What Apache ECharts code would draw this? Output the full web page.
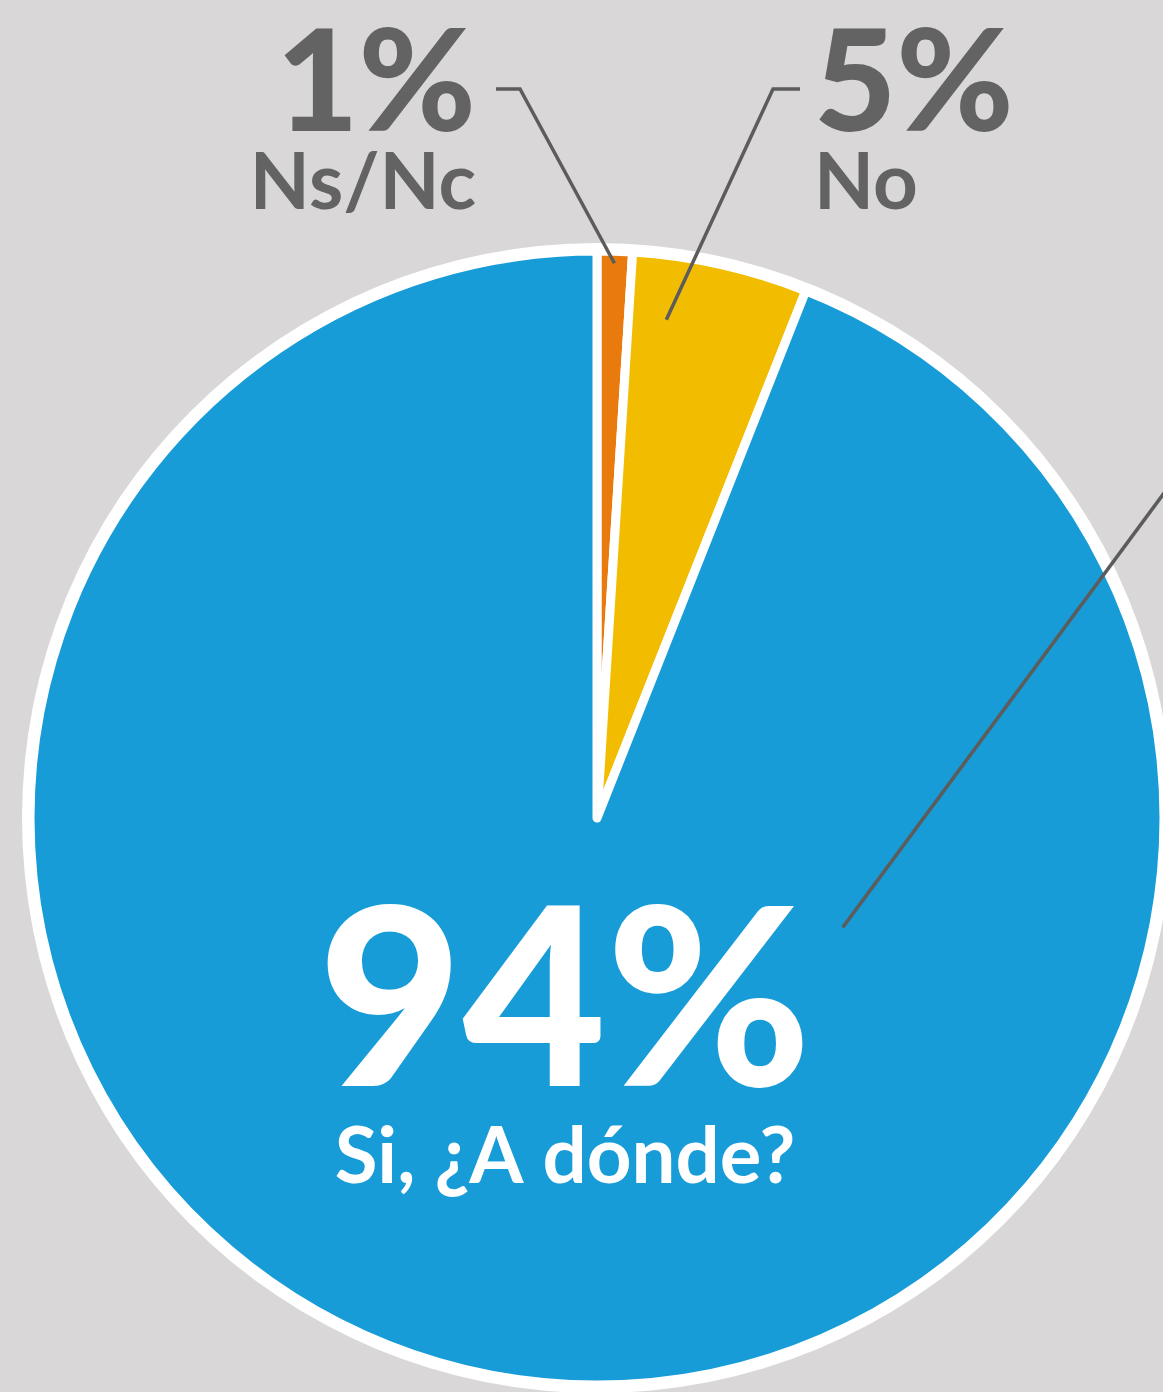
<!DOCTYPE html>
<html>
<head>
<meta charset="utf-8">
<title>Si, ¿A dónde?</title>
<script src="https://cdn.jsdelivr.net/npm/echarts@6/dist/echarts.min.js"></script>
<style>
  html, body { margin: 0; padding: 0; background: #d9d7d8; }
  #chart { width: 1163px; height: 1392px; }
</style>
</head>
<body>
<div id="chart"></div>
<script>
// datos de la encuesta
const categories = ['Ns/Nc', 'No', 'Si, ¿A dónde?']
const values = [1, 5, 94]
const colors = ['#e97a0d', '#f2bd00', '#179cd8']

// geometria de la tarta (px)
const CX = 597
const CY = 818
const R = 567
const FONT = 'Lato'

const total = values.reduce((a, b) => a + b, 0)
const spans = values.map((v) => (v / total) * 360)
const starts = spans.map((s, i) => spans.slice(0, i).reduce((a, b) => a + b, 0))

// punto dentro de la tarta, angulo en grados desde las 12 en sentido horario
function polar(deg, r) {
  const a = (deg * Math.PI) / 180
  return [CX + r * Math.sin(a), CY - r * Math.cos(a)]
}

// lineas guia: desde un punto de cada porcion hasta su etiqueta
const guides = [
  [polar(starts[0] + spans[0] * 0.5, 555), [520, 89], [496, 89]],
  [polar(starts[1] + spans[1] * 0.24, 503), [773, 89], [800, 89]],
  [polar(starts[2] + spans[2] * 0.273, 269), [1190, 458]],
]

const chart = echarts.init(document.getElementById('chart'))

const option = {
  backgroundColor: '#d9d7d8',
  animation: false,
  graphic: [
    {
      type: 'circle',
      z: 0,
      silent: true,
      shape: { cx: CX, cy: CY, r: R + 8 },
      style: { fill: '#ffffff' },
    },
  ].concat(
    guides.map((pts) => ({
      type: 'polyline',
      z: 100,
      silent: true,
      shape: { points: pts },
      style: { stroke: '#5c5c5c', lineWidth: 3.5, fill: null },
    }))
  ),
  series: [
    {
      type: 'pie',
      z: 2,
      center: [CX, CY],
      radius: R,
      startAngle: 90,
      clockwise: true,
      avoidLabelOverlap: false,
      silent: true,
      itemStyle: {
        borderColor: '#ffffff',
        borderWidth: 9,
      },
      label: {
        show: true,
        position: 'outside',
        fontFamily: FONT,
        fontWeight: 900,
        formatter: (p) => {
          const w = p.dataIndex === 2 ? 'W' : ''
          return `{pct${w}|${p.value}%}\n{name${w}|${p.name}}`
        },
        rich: {
          pct: { fontFamily: FONT, fontWeight: 900, fontSize: 142, lineHeight: 112, color: '#636363' },
          name: { fontFamily: FONT, fontWeight: 700, fontSize: 78, lineHeight: 86, color: '#636363' },
          pctW: { fontFamily: FONT, fontWeight: 900, fontSize: 248, lineHeight: 204, color: '#ffffff' },
          nameW: { fontFamily: FONT, fontWeight: 700, fontSize: 78, lineHeight: 100, color: '#ffffff' },
        },
      },
      labelLine: { show: false },
      labelLayout: (params) => {
        const i = params.dataIndex
        if (i === 0) return { x: 476, y: 29, align: 'right', verticalAlign: 'top' }
        if (i === 1) return { x: 814, y: 29, align: 'left', verticalAlign: 'top' }
        return { x: 565, y: 904, align: 'center', verticalAlign: 'top' }
      },
      data: categories.map((name, i) => ({
        name: name,
        value: values[i],
        itemStyle: { color: colors[i] },
      })),
    },
  ],
}

chart.setOption(option)
</script>
</body>
</html>
